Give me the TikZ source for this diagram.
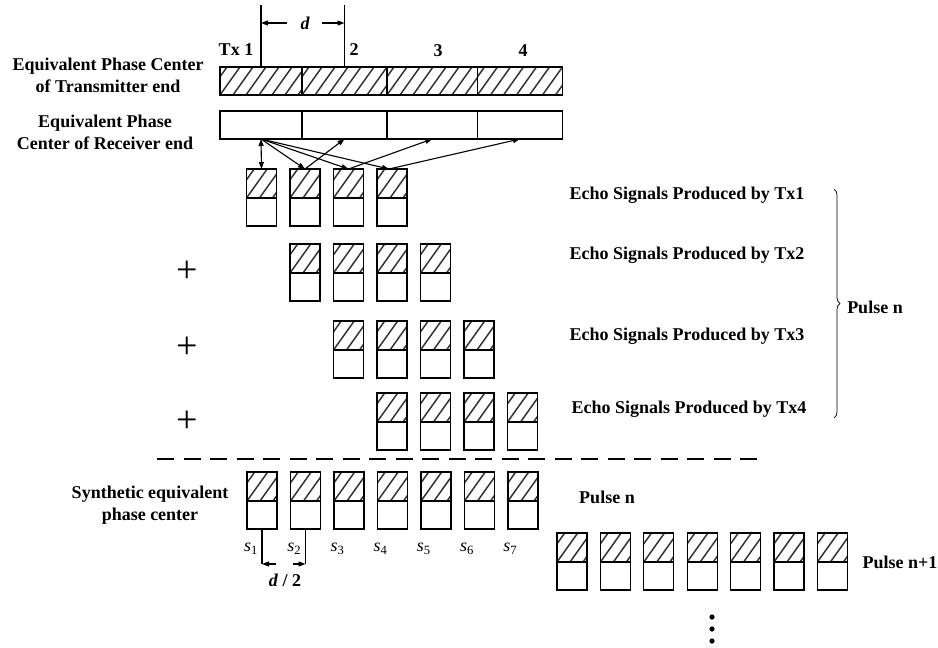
\documentclass[tikz,border=0pt]{standalone}
\usepackage{fontspec}
\setmainfont{Liberation Serif}
\usetikzlibrary{arrows.meta,decorations.pathreplacing}

\tikzset{
  every node/.style={inner sep=0pt, outer sep=0pt},
  lbl/.style={font=\fontsize{18}{22}\selectfont\bfseries, align=center},
  cellbase/.style={draw=black, line width=1.1pt, minimum width=30pt, minimum height=29pt},
  hatchline/.style={line width=1.5pt, black!80},
  hatchcell/.style={cellbase, path picture={
      \foreach \h in {-39,-26,...,100}{
        \draw[hatchline] ([xshift=\h pt]path picture bounding box.south west) -- ++(36,-50.4);}}},
  opencell/.style={cellbase, minimum height=28pt},
  midline/.style={line width=1.8pt},
  arr/.style={line width=1.1pt, -{Triangle[length=7pt,width=5pt]}},
  arrboth/.style={line width=1.1pt, {Triangle[length=7pt,width=5pt]}-{Triangle[length=7pt,width=5pt]}},
  guide/.style={line width=1.1pt},
  plus/.style={font=\fontsize{38}{38}\selectfont},
  slab/.style={font=\fontsize{18}{22}\selectfont\itshape},
}

\begin{document}
\begin{tikzpicture}[x=1pt, y=-1pt]
\useasboundingbox (0,0) rectangle (938,648);

% transmitter (hatched) and receiver (open) phase-centre bars
\foreach \n/\c/\w in {1/261/82, 2/344.5/85, 3/432.25/90.5, 4/520/85}{
  \node[hatchcell, minimum width=\w pt, minimum height=28pt] (tx\n) at (\c,81) {};
  \node[cellbase, minimum width=\w pt, minimum height=28pt] (rx\n) at (\c,125) {};
}

\node[lbl] (txlab) at (108,75.5) {Equivalent Phase Center\\of Transmitter end};
\node[lbl] (rxlab) at (105,132.5) {Equivalent Phase\\Center of Receiver end};

\node[lbl] (t1) at (236,50) {Tx 1};
\node[lbl] (t2) at (354,50) {2};
\node[lbl] (t3) at (438,51) {3};
\node[lbl] (t4) at (523,51) {4};

% element spacing d
\draw[guide] (tx1.north) -- ++(0,-62) coordinate (dt1);
\draw[guide] (tx2.north) -- ++(0,-62) coordinate (dt2);
\node[lbl, font=\fontsize{18}{22}\selectfont\bfseries\itshape] (dlab) at (305,23) {d};
\draw[arr] ([xshift=-18pt]dlab.center) -- (dlab.center -| tx1.north);
\draw[arr] ([xshift=17pt]dlab.center) -- (dlab.center -| tx2.north);

% echo signals of the four transmitters
\foreach \row/\ty in {1/169, 2/244, 3/321, 4/393}{
  \foreach \col in {1,...,4}{
    \pgfmathsetmacro{\cx}{261.5+43.5*(\row+\col-2)}
    \node[hatchcell] (e\row\col) at (\cx,\ty+14.5) {};
    \node[opencell, anchor=north] (o\row\col) at (e\row\col.south) {};
    \draw[midline] (e\row\col.south west) -- (e\row\col.south east);
  }
}

% receive paths of Tx1
\draw[arrboth] (rx1.south) -- (e11.north);
\draw[arr] (rx1.south) -- (e12.north);
\draw[arr] (rx1.south) -- (e13.north);
\draw[arr] (rx1.south) -- ([xshift=-3pt]e14.north);
\draw[arr] (e12.north) -- (rx2.south);
\draw[arr] (e13.north) -- (rx3.south);
\draw[arr] ([xshift=-3pt]e14.north) -- (rx4.south);

\node[plus] (pl2) at (187,272) {+};
\node[plus] (pl3) at (187,348) {+};
\node[plus] (pl4) at (187,422) {+};

\node[lbl] (ec1) at (687,195) {Echo Signals Produced by Tx1};
\node[lbl] (ec2) at (687,255) {Echo Signals Produced by Tx2};
\node[lbl] (ec3) at (687,336) {Echo Signals Produced by Tx3};
\node[lbl] (ec4) at (689,409) {Echo Signals Produced by Tx4};

\draw[line width=0.7pt, decorate, decoration={brace, amplitude=6pt}]
  (834,189) -- (834,418);
\node[lbl] (pn) at (875,307) {Pulse n};

% separator
\draw[line width=1.1pt, dash pattern=on 17pt off 9.5pt] (157,459) -- (757,459);

% synthetic equivalent phase centres, pulse n
\node[lbl] (synlab) at (150,505) {Synthetic equivalent\\phase center};
\foreach \col in {1,...,7}{
  \pgfmathsetmacro{\cx}{262+43.5*(\col-1)}
  \node[hatchcell] (s\col) at (\cx,486.5) {};
  \node[opencell, anchor=north] (so\col) at (s\col.south) {};
  \draw[midline] (s\col.south west) -- (s\col.south east);
  \pgfmathsetmacro{\lx}{251+43.2*(\col-1)}
  \node[slab] (sl\col) at (\lx,549) {s\textsubscript{\upshape\col}};
}
\node[lbl] (pn2) at (607,497) {Pulse n};

% half spacing d/2
\draw[guide] (so1.south) -- ++(0,35) coordinate (h1);
\draw[guide] (so2.south) -- ++(0,35) coordinate (h2);
\draw[arr] ([xshift=14pt]h1) -- (h1);
\draw[arr] ([xshift=-13pt]h2) -- (h2);
\node[lbl] (dhalf) at (285,580) {\textit{d} / 2};

% pulse n+1
\foreach \col in {1,...,7}{
  \pgfmathsetmacro{\cx}{572+43.4*(\col-1)}
  \node[hatchcell] (p\col) at (\cx,547.5) {};
  \node[opencell, anchor=north] (po\col) at (p\col.south) {};
  \draw[midline] (p\col.south west) -- (p\col.south east);
}
\node[lbl] (pn1) at (900,562) {Pulse n+1};

% continuation dots
\fill (712,617) circle[radius=2.6pt];
\fill (712,629) circle[radius=2.6pt];
\fill (712,641) circle[radius=2.6pt];
\end{tikzpicture}
\end{document}
